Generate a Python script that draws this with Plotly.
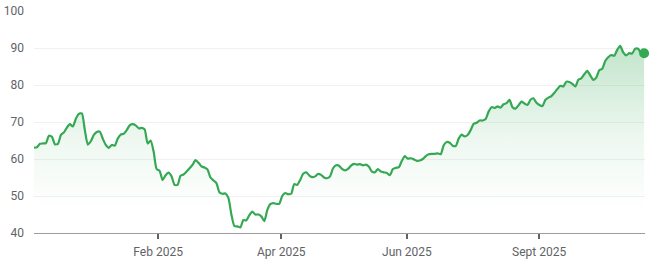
import plotly.graph_objects as go

prices = [
    63.1, 63.2, 64.1, 64.2, 64.3, 66.3, 66.0, 64.0, 64.1, 66.5,
    67.2, 68.5, 69.4, 68.8, 70.9, 72.2, 72.3, 67.8, 63.9, 64.8,
    66.5, 67.3, 67.4, 65.5, 63.8, 63.0, 63.8, 63.6, 65.5, 66.6,
    66.8, 67.8, 69.1, 69.4, 69.1, 68.3, 68.4, 68.0, 64.2, 65.0,
    62.0, 57.3, 56.8, 54.3, 55.6, 56.3, 55.3, 53.0, 53.0, 55.5,
    55.8, 56.6, 57.5, 58.4, 59.7, 59.0, 58.0, 57.7, 57.2, 55.0,
    54.2, 53.5, 51.0, 50.6, 50.7, 49.5, 45.0, 41.9, 41.8, 41.5,
    43.5, 43.4, 44.8, 45.8, 45.0, 45.0, 44.5, 43.2, 46.2, 47.8,
    48.1, 47.9, 47.9, 50.0, 50.8, 50.5, 50.6, 53.2, 53.0, 54.3,
    56.0, 56.4, 55.6, 55.1, 55.3, 56.0, 55.7, 55.0, 54.8, 55.3,
    57.5, 58.3, 58.2, 57.3, 56.9, 57.3, 58.2, 58.7, 58.5, 58.6,
    58.3, 58.5, 57.9, 56.6, 56.4, 57.3, 56.6, 56.4, 56.2, 55.6,
    57.3, 57.6, 57.8, 59.5, 60.8, 60.1, 60.2, 59.9, 59.5, 59.6,
    60.0, 60.8, 61.3, 61.4, 61.4, 61.5, 61.3, 63.7, 64.6, 64.4,
    63.6, 63.5, 65.5, 66.6, 66.1, 66.5, 67.8, 69.5, 69.8, 70.4,
    70.4, 70.8, 72.8, 74.0, 73.8, 74.2, 73.9, 74.8, 75.1, 76.0,
    74.0, 73.6, 74.5, 75.5, 75.0, 74.6, 76.0, 76.4, 75.2, 74.6,
    74.3, 76.0, 76.6, 77.0, 77.9, 78.9, 79.8, 79.6, 80.9, 80.8,
    80.3, 79.6, 81.4, 81.8, 82.9, 83.8, 82.6, 81.4, 82.0, 84.0,
    84.4, 86.5, 87.5, 88.1, 87.9, 89.5, 90.6, 88.8, 88.0, 88.6,
    88.5, 89.8, 89.8, 88.6, 88.6,
]
idx = list(range(len(prices)))

tick_pos = [41.5, 82.7, 124.7, 168.9]
tick_labels = ["Feb 2025", "Apr 2025", "Jun 2025", "Sept 2025"]
y_ticks = [40, 50, 60, 70, 80, 90, 100]

GREEN = "#34a853"
base = 40

fig = go.Figure()
fig.add_trace(go.Scatter(x=idx, y=[base] * len(prices), mode="lines",
                         line=dict(width=0), hoverinfo="skip", showlegend=False))
fig.add_trace(go.Scatter(
    x=idx, y=prices, mode="lines", fill="tonexty",
    fillgradient=dict(type="vertical", start=47, stop=max(prices),
                      colorscale=[[0, "rgba(52,168,83,0)"],
                                  [0.45, "rgba(52,168,83,0.09)"],
                                  [1, "rgba(52,168,83,0.3)"]]),
    line=dict(color=GREEN, width=2.2, shape="spline", smoothing=0.6),
    showlegend=False))
fig.add_trace(go.Scatter(x=[idx[-1]], y=[prices[-1]], mode="markers",
                         marker=dict(color=GREEN, size=10), cliponaxis=False,
                         showlegend=False))

fig.update_layout(
    width=649, height=263, margin=dict(l=33, r=4, t=11, b=28),
    paper_bgcolor="white", plot_bgcolor="white",
    font=dict(family="Roboto, Arial, sans-serif", size=12, color="#5f6368"),
    xaxis=dict(range=[0, len(prices) - 0.7], tickvals=tick_pos, ticktext=tick_labels,
               showgrid=False, zeroline=False, showline=True, linecolor="#9e9e9e",
               linewidth=1, ticks="outside", ticklen=5, tickwidth=2, tickcolor="#5f6368",
               ticklabelstandoff=3),
    yaxis=dict(range=[40, 100], tickvals=y_ticks, showgrid=True, gridcolor="#f1f1f1",
               zeroline=False, showline=False, ticks="", ticklabelstandoff=9),
)
fig.write_html("out.html")
